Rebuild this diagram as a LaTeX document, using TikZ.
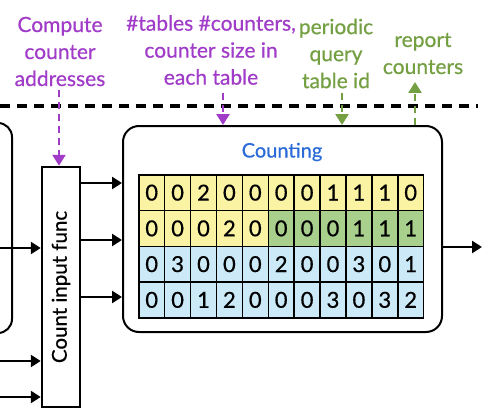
\documentclass[tikz,border=0pt]{standalone}
\usepackage{fontspec}
\setmainfont{Lato}[UprightFeatures={FakeBold=0.6}]
\usetikzlibrary{arrows.meta}
\definecolor{ppl}{HTML}{A03CC8}
\definecolor{grn}{HTML}{74A043}
\definecolor{blu}{HTML}{2B6BD8}
\definecolor{cy}{HTML}{FBF3A4}
\definecolor{cg}{HTML}{A8D08C}
\definecolor{cb}{HTML}{CBE9F7}
\tikzset{
  lbl/.style={align=center, font=\fontsize{21}{27}\selectfont},
  arr/.style={-{Triangle[length=10pt,width=12pt]}, line width=2.5pt, black},
  darr/.style={-{Triangle[length=11pt,width=13pt]}, line width=2.5pt, dash pattern=on 7pt off 5pt},
  cell/.style={draw, line width=1.5pt, minimum width=25.9pt, minimum height=35.75pt, inner sep=0pt, anchor=north west, font=\fontsize{22}{22}\selectfont},
}
\begin{document}
\begin{tikzpicture}[x=1pt,y=-1pt]
\useasboundingbox (0,0) rectangle (501,412);
% dashed separator
\draw[line width=3pt, dash pattern=on 10pt off 7pt] (0,106) -- (478,106);
% left partial box
\draw[line width=2pt, rounded corners=14pt] (-40,123) -- (12,123) -- (12,333) -- (-40,333);
% count input func
\node[draw, line width=2.5pt, minimum width=38pt, minimum height=240pt, inner sep=0pt] (cif) at (61,287) {};
\node[rotate=90, font=\fontsize{20.5}{20}\selectfont] (ciftext) at (cif.center) {Count input func};
% counting box
\node[draw, line width=2pt, rounded corners=16pt, minimum width=319pt, minimum height=206pt, inner sep=0pt] (count) at (282.5,229) {};
\node[text=blu, font=\fontsize{20}{19}\selectfont] (counttitle) at (282,152) {Counting};
% grid
\def\rowA{0,0,2,0,0,0,0,1,1,1,0}
\def\rowB{0,0,0,2,0,0,0,0,1,1,1}
\def\rowC{0,3,0,0,0,2,0,0,3,0,1}
\def\rowD{0,0,1,2,0,0,0,3,0,3,2}
\foreach \v [count=\i from 0] in \rowA {\node[cell, fill=cy] (a\i) at (138+25.9*\i,174) {\v};}
\foreach \v [count=\i from 0] in \rowB {
  \ifnum\i<5 \def\cc{cy}\else\def\cc{cg}\fi
  \node[cell, fill=\cc] (b\i) at (138+25.9*\i,209.75) {\v};}
\foreach \v [count=\i from 0] in \rowC {\node[cell, fill=cb] (c\i) at (138+25.9*\i,245.5) {\v};}
\foreach \v [count=\i from 0] in \rowD {\node[cell, fill=cb] (d\i) at (138+25.9*\i,281.25) {\v};}
% arrows
\coordinate (y1) at (0,183);
\coordinate (y2) at (0,240);
\coordinate (y3) at (0,297);
\coordinate (in1) at (0,248);
\coordinate (in2) at (0,361);
\coordinate (in3) at (0,397);
\coordinate (out) at (482,247);
\draw[arr] (cif.east |- y1) -- (count.west |- y1);
\draw[arr] (cif.east |- y2) -- (count.west |- y2);
\draw[arr] (cif.east |- y3) -- (count.west |- y3);
\draw[arr] (in1) -- (cif.west |- in1);
\draw[arr] (in2) -- (cif.west |- in2);
\draw[arr] (in3) -- (cif.west |- in3);
\draw[arr] (count.east |- out) -- (out);
% labels
\node[lbl, text=ppl] (t1) at (60,51.5) {Compute\\counter\\addresses};
\node[lbl, text=ppl] (t2) at (211,50) {\#tables \#counters,\\counter size in\\each table};
\node[lbl, text=grn] (t3) at (336,53.5) {periodic\\query\\table id};
\node[lbl, text=grn] (t4) at (423,53.5) {report\\counters};
\draw[darr, ppl] (59,90) -- (cif.north -| 59,0);
\draw[darr, ppl] (223,93) -- (count.north -| 223,0);
\draw[darr, grn] (342,93) -- (count.north -| 342,0);
\draw[darr, grn] (count.north -| 415,0) -- (415,82);
\end{tikzpicture}
\end{document}
